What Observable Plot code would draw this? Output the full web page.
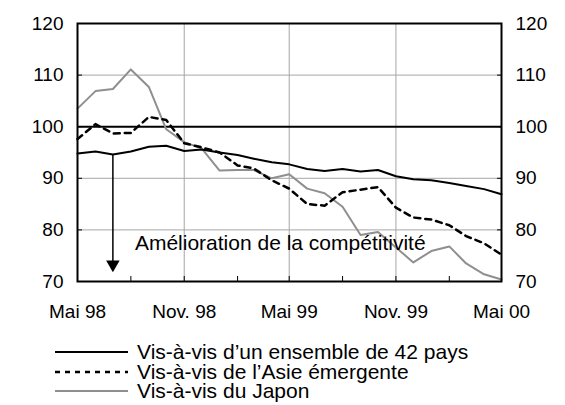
<!DOCTYPE html>
<html>
<head>
<meta charset="utf-8">
<script src="https://cdn.jsdelivr.net/npm/d3@7"></script>
<script src="https://cdn.jsdelivr.net/npm/@observablehq/plot@0.6"></script>
<style>
  html, body { margin: 0; padding: 0; background: #fff; }
  body { width: 565px; height: 405px; overflow: hidden; font-family: "Liberation Sans", Arial, sans-serif; }
  #legend { margin-top: 12px; font-size: 21px; color: #000; }
  .row { display: flex; align-items: center; height: 19.7px; line-height: 19.7px; white-space: nowrap; }
  .row svg { margin-left: 55px; margin-right: 9px; flex: none; }
</style>
</head>
<body>
<div id="chart"></div>
<div id="legend"></div>
<script>
// ---- data ----
const months = ["1998-05","1998-06","1998-07","1998-08","1998-09","1998-10","1998-11","1998-12",
  "1999-01","1999-02","1999-03","1999-04","1999-05","1999-06","1999-07","1999-08","1999-09","1999-10",
  "1999-11","1999-12","2000-01","2000-02","2000-03","2000-04","2000-05"];
const ensemble42 = [94.8, 95.2, 94.6, 95.2, 96.1, 96.3, 95.3, 95.6, 95.0, 94.5, 93.8, 93.1, 92.7,
  91.8, 91.4, 91.8, 91.3, 91.6, 90.4, 89.8, 89.6, 89.1, 88.5, 87.9, 86.9];
const asieEmergente = [97.6, 100.5, 98.7, 98.8, 101.9, 101.3, 96.8, 96.0, 95.0, 92.5, 91.9, 89.6, 88.0,
  85.0, 84.7, 87.3, 87.8, 88.3, 84.3, 82.4, 82.0, 80.9, 78.8, 77.4, 75.2];
const japon = [103.5, 106.9, 107.3, 111.1, 107.7, 99.5, 97.0, 95.8, 91.5, 91.6, 91.6, 90.0, 90.8,
  88.0, 87.1, 84.5, 79.0, 79.6, 76.6, 73.7, 75.9, 76.8, 73.5, 71.4, 70.4];
const seriesNames = ["Vis-à-vis d\u2019un ensemble de 42 pays", "Vis-à-vis de l\u2019Asie émergente", "Vis-à-vis du Japon"];
const xTickMonths = ["1998-05","1998-11","1999-05","1999-11","2000-05"];
const xTickLabels = ["Mai 98","Nov. 98","Mai 99","Nov. 99","Mai 00"];
const xMinorMonths = ["1998-08","1998-11","1999-02","1999-05","1999-08","1999-11","2000-02"];
const gridMonths = ["1998-11","1999-05","1999-11"];
const yTicks = [70, 80, 90, 100, 110, 120];
const yGrid = [80, 90, 110];
const refLine = [100];
const arrowMonth = "1998-07";
const arrowEnd = 73.3;
const annotation = "Amélioration de la compétitivité";
const annotationMonth = "1998-08-08";
const annotationValue = 77.4;

// ---- build ----
const parse = d3.utcParse("%Y-%m");
const parseDay = d3.utcParse("%Y-%m-%d");
const rows = months.map((m, i) => ({date: parse(m), e: ensemble42[i], a: asieEmergente[i], j: japon[i]}));
const arrowStart = ensemble42[months.indexOf(arrowMonth)];
const font = "'Liberation Sans', Arial, sans-serif";

const plot = Plot.plot({
  width: 565,
  height: 330,
  marginLeft: 77,
  marginRight: 64,
  marginTop: 23,
  marginBottom: 49,
  style: {fontFamily: font, fontSize: "19px", color: "#000", background: "#fff"},
  x: {type: "utc", domain: [parse(months[0]), parse(months[months.length - 1])]},
  y: {domain: [70, 120]},
  marks: [
    Plot.ruleY(yGrid, {stroke: "#a6a6a6", strokeWidth: 1}),
    Plot.ruleX(gridMonths.map(parse), {stroke: "#a6a6a6", strokeWidth: 1}),
    Plot.ruleY(refLine, {stroke: "#000", strokeWidth: 2}),
    Plot.axisX({ticks: xTickMonths.map(parse), tickSize: 0, tickPadding: 23, label: null,
      tickFormat: d => xTickLabels[xTickMonths.indexOf(d3.utcFormat("%Y-%m")(d))], fontSize: 19}),
    Plot.axisX({ticks: xMinorMonths.map(parse), tickSize: 5, dy: -5, tickFormat: () => "", label: null, strokeWidth: 1}),
    Plot.axisY({anchor: "left", ticks: yTicks, tickSize: 0, tickPadding: 14, label: null, fontSize: 19}),
    Plot.axisY({anchor: "right", ticks: yTicks, tickSize: 0, tickPadding: 14, label: null, fontSize: 19}),
    Plot.axisY({anchor: "left", ticks: yTicks, tickSize: 5, dx: 5, tickFormat: () => "", label: null}),
    Plot.axisY({anchor: "right", ticks: yTicks, tickSize: 5, dx: -5, tickFormat: () => "", label: null}),
    Plot.lineY(rows, {x: "date", y: "j", stroke: "#8f8f8f", strokeWidth: 2}),
    Plot.lineY(rows, {x: "date", y: "a", stroke: "#000", strokeWidth: 2.5, strokeDasharray: "6,5"}),
    Plot.lineY(rows, {x: "date", y: "e", stroke: "#000", strokeWidth: 2}),
    Plot.ruleX([parse(arrowMonth)], {y1: arrowStart, y2: arrowEnd, stroke: "#000", strokeWidth: 1.5}),
    Plot.dot([parse(arrowMonth)], {x: d => d, y: arrowEnd, symbol: "triangle", rotate: 180, r: 5, fill: "#000", stroke: null}),
    Plot.text([annotation], {x: parseDay(annotationMonth), y: annotationValue, text: d => d, textAnchor: "start", fontSize: 21, fill: "#000"}),
    Plot.frame({stroke: "#000", strokeWidth: 2})
  ]
});
document.getElementById("chart").appendChild(plot);

// ---- legend ----
const styles = [
  {stroke: "#000", width: 2, dash: null},
  {stroke: "#000", width: 2.5, dash: "5,5"},
  {stroke: "#8f8f8f", width: 2, dash: null}
];
const legend = document.getElementById("legend");
seriesNames.forEach((name, i) => {
  const row = document.createElement("div");
  row.className = "row";
  const s = styles[i];
  row.innerHTML = `<svg width="73" height="10"><line x1="0" x2="73" y1="5" y2="5" stroke="${s.stroke}" stroke-width="${s.width}" ${s.dash ? `stroke-dasharray="${s.dash}"` : ""}/></svg><span>${name}</span>`;
  legend.appendChild(row);
});
</script>
</body>
</html>
